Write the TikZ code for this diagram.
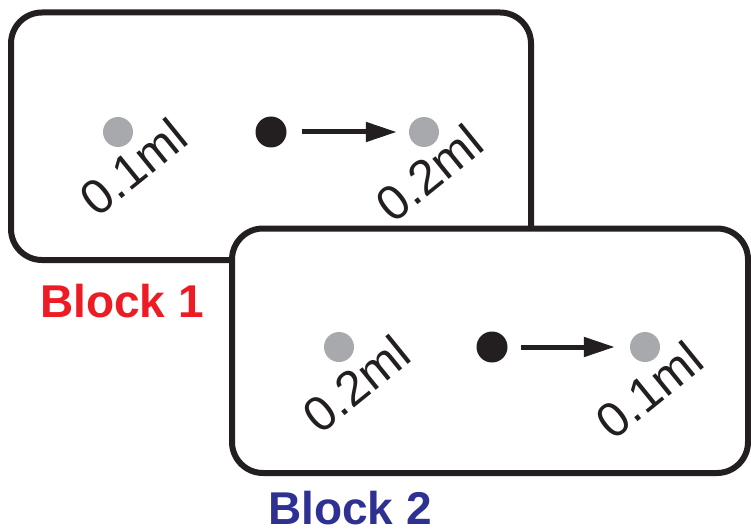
\documentclass[tikz,border=0pt]{standalone}
\usepackage{fontspec}
\setmainfont{Liberation Sans}
\usetikzlibrary{arrows.meta}
\definecolor{inkblack}{HTML}{231F20}
\definecolor{dotgray}{HTML}{A7A9AC}
\definecolor{blockred}{HTML}{ED1C24}
\definecolor{blockblue}{HTML}{2E3192}
\tikzset{
  panel/.style={draw=inkblack, line width=6pt, rounded corners=31pt, fill=white},
  graydot/.style={circle, fill=dotgray, inner sep=0pt, minimum size=30pt},
  blackdot/.style={circle, fill=inkblack, inner sep=0pt, minimum size=31pt},
  flowarrow/.style={draw=inkblack, line width=5pt, -{Triangle[length=31pt,width=19pt]}},
  vol/.style={font=\fontsize{49}{49}\selectfont, text=inkblack, rotate=39, inner sep=0pt},
  blocklabel/.style={font=\fontsize{46}{46}\selectfont\bfseries, inner sep=0pt, text depth=0pt, anchor=base}
}
\begin{document}
\begin{tikzpicture}[x=1pt,y=-1pt]
\useasboundingbox (0,0) rectangle (751,529);
% Block 1
\draw[panel] (11,12.5) rectangle (531,260);
\node[graydot] (a1) at (118,132) {};
\node[blackdot] (b1) at (271,132) {};
\node[graydot] (c1) at (424,132) {};
\coordinate (s1) at ([xshift=15pt]b1.east);
\coordinate (e1) at ([xshift=-12pt]c1.west);
\draw[flowarrow] (s1) -- (e1);
\node[vol] (la1) at (133,167) {0.1ml};
\node[vol] (lc1) at (429,173) {0.2ml};
\node[blocklabel, text=blockred] (t1) at (122,317) {Block 1};
% Block 2
\draw[panel] (232,228.5) rectangle (748,473);
\node[graydot] (a2) at (339,347) {};
\node[blackdot] (b2) at (492,347) {};
\node[graydot] (c2) at (645,347) {};
\coordinate (s2) at ([xshift=13pt]b2.east);
\coordinate (e2) at ([xshift=-15pt]c2.west);
\draw[flowarrow] (s2) -- (e2);
\node[vol] (la2) at (356,384) {0.2ml};
\node[vol] (lc2) at (649,390) {0.1ml};
\node[blocklabel, text=blockblue] (t2) at (350,524) {Block 2};
\end{tikzpicture}
\end{document}
